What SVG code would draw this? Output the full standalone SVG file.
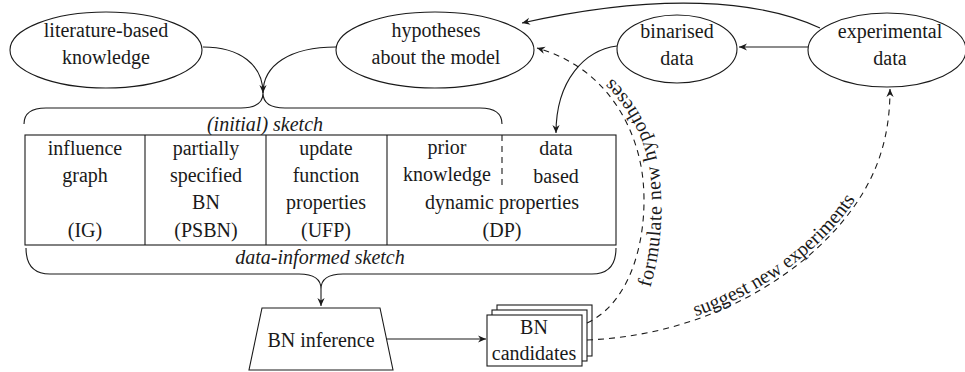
<svg xmlns="http://www.w3.org/2000/svg" width="965" height="372" viewBox="0 0 965 372">
<style>
.t{font-family:"Liberation Serif","Times New Roman",serif;font-size:20px;fill:#1a1a1a;text-anchor:middle}
.i{font-style:italic}
.s{font-family:"Liberation Serif","Times New Roman",serif;font-size:20px;fill:#1a1a1a}
.n{fill:#fff;stroke:#1a1a1a;stroke-width:1.1}
.c{fill:none;stroke:#1a1a1a;stroke-width:1.1}
.d{fill:none;stroke:#1a1a1a;stroke-width:1.1;stroke-dasharray:6 5}
</style>
<defs>
<marker id="ah" viewBox="-10 -5 11 10" refX="0" refY="0" markerWidth="11" markerHeight="10" markerUnits="userSpaceOnUse" orient="auto">
<path d="M0,0 L-8,-3.6 L-5.5,0 L-8,3.6 Z" fill="#1a1a1a"/>
</marker>
<path id="tp1" d="M 645,305 C 660,260 664,220 660,180 C 656,125 620,70 560,42"/>
<path id="tp2" d="M 586,337 C 719,332 829,257 867,179 C 882,149 887,120 887,89"/>
</defs>

<g id="literature">
<ellipse class="n" cx="106" cy="50" rx="96" ry="38"/>
<text class="t" x="106" y="37">literature-based</text>
<text class="t" x="106" y="64">knowledge</text>
</g>
<g id="hypotheses">
<ellipse class="n" cx="435" cy="50" rx="99" ry="38"/>
<text class="t" x="436" y="37">hypotheses</text>
<text class="t" x="436" y="64">about the model</text>
</g>
<g id="binarised">
<ellipse class="n" cx="677" cy="49" rx="60" ry="34"/>
<text class="t" x="677" y="38">binarised</text>
<text class="t" x="677" y="65">data</text>
</g>
<g id="experimental">
<ellipse class="n" cx="887" cy="50" rx="79" ry="37"/>
<text class="t" x="890" y="38">experimental</text>
<text class="t" x="890" y="65">data</text>
</g>

<g id="initial-sketch">
<path class="c" d="M 24,124 Q 24,108 46,108 L 241,108 Q 263,108 263,93 Q 263,108 285,108 L 480,108 Q 502,108 502,124"/>
<text class="t i" x="265" y="131">(initial) sketch</text>
</g>

<g id="table">
<rect class="n" x="25" y="135" width="591" height="110"/>
<line class="c" x1="145" y1="135" x2="145" y2="245"/>
<line class="c" x1="266" y1="135" x2="266" y2="245"/>
<line class="c" x1="387" y1="135" x2="387" y2="245"/>
<line class="d" x1="502" y1="135" x2="502" y2="187" stroke-dasharray="5 4"/>
<text class="t" x="85" y="155">influence</text>
<text class="t" x="85" y="182">graph</text>
<text class="t" x="85" y="237">(IG)</text>
<text class="t" x="206" y="155">partially</text>
<text class="t" x="206" y="182">specified</text>
<text class="t" x="206" y="209">BN</text>
<text class="t" x="206" y="237">(PSBN)</text>
<text class="t" x="326" y="155">update</text>
<text class="t" x="326" y="182">function</text>
<text class="t" x="326" y="209">properties</text>
<text class="t" x="326" y="237">(UFP)</text>
<text class="t" x="447" y="154">prior</text>
<text class="t" x="447" y="181">knowledge</text>
<text class="t" x="556" y="155">data</text>
<text class="t" x="556" y="183">based</text>
<text class="t" x="502" y="209">dynamic properties</text>
<text class="t" x="502" y="237">(DP)</text>
</g>

<g id="data-informed-sketch">
<path class="c" d="M 26,248 Q 26,274 50,274 L 299,274 Q 321,274 321,289 Q 321,274 343,274 L 592,274 Q 616,274 616,248"/>
<text class="t i" x="320" y="264">data-informed sketch</text>
</g>

<g id="bn-inference">
<path class="n" d="M 262,308 L 380,308 L 393,370 L 249,370 Z"/>
<text class="t" x="321" y="347">BN inference</text>
</g>

<g id="bn-candidates">
<rect class="n" x="497" y="305" width="95" height="51"/>
<rect class="n" x="492" y="310" width="95" height="51"/>
<rect class="n" x="487" y="315" width="95" height="51"/>
<text class="t" x="534" y="334">BN</text>
<text class="t" x="534" y="360">candidates</text>
</g>

<g id="connectors">
<path class="c" d="M 203,47 C 240,47 263,65 263,93" marker-end="url(#ah)"/>
<path class="c" d="M 336,47 C 290,47 263,65 263,93"/>
<path class="c" d="M 808,47 L 739,47" marker-end="url(#ah)"/>
<path class="c" d="M 820,28 C 760,0 660,-8 522,23" marker-end="url(#ah)"/>
<path class="c" d="M 617,46 C 585,50 556,80 556,133" marker-end="url(#ah)"/>
<path class="c" d="M 321,289 L 321,306" marker-end="url(#ah)"/>
<path class="c" d="M 387,339 L 486,339" marker-end="url(#ah)"/>
<path class="d" d="M 587,323 C 635,300 648,230 643,180 C 638,130 608,68 537,48" marker-end="url(#ah)"/>
<path class="d" d="M 587,340 C 720,335 830,260 870,180 C 885,150 890,120 890,89" marker-end="url(#ah)"/>
<text class="s" letter-spacing="0.6"><textPath href="#tp1" startOffset="18">formulate new hypotheses</textPath></text>
<text class="s"><textPath href="#tp2" startOffset="112">suggest new experiments</textPath></text>
</g>
</svg>
